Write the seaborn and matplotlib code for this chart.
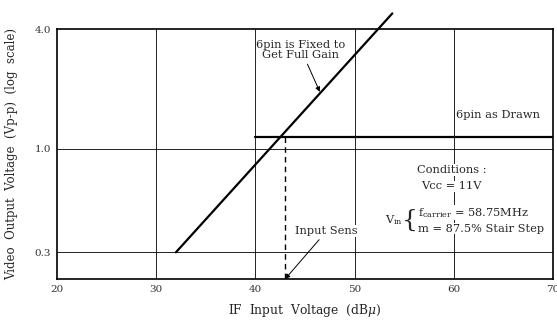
import matplotlib
matplotlib.use("Agg")
import matplotlib.pyplot as plt
import seaborn as sns
import pandas as pd

# data
full_gain_x = [32.0, 53.8]      # 6pin fixed to get full gain (dBu)
full_gain_y = [0.3, 4.8]        # Vp-p
drawn_x = [40.0, 70.0]          # 6pin as drawn
drawn_y = [1.15, 1.15]
sens_x = [43.0, 43.0]           # input sensitivity marker
sens_y = [1.15, 0.22]

x_ticks = [20, 30, 40, 50, 60, 70]
y_ticks = [0.3, 1.0, 4.0]
y_ticklabels = ["0.3", "1.0", "4.0"]

sns.set_theme(style="white")
plt.rcParams["font.family"] = ["DejaVu Serif"]
plt.rcParams["mathtext.fontset"] = "dejavuserif"

fig = plt.figure(figsize=(5.57, 3.2), dpi=100)
ax = fig.add_axes([0.102, 0.128, 0.891, 0.781])

# grid lines
for gx in [30, 40, 50, 60]:
    ax.axvline(gx, color="black", lw=0.6, zorder=1)
for gy in [0.3, 1.0]:
    ax.axhline(gy, color="black", lw=0.6, zorder=1)

df_full = pd.DataFrame({"x": full_gain_x, "y": full_gain_y})
df_drawn = pd.DataFrame({"x": drawn_x, "y": drawn_y})

sns.lineplot(data=df_full, x="x", y="y", ax=ax, color="black", lw=1.6, zorder=5)
ax.lines[-1].set_clip_on(False)
sns.lineplot(data=df_drawn, x="x", y="y", ax=ax, color="black", lw=1.6, zorder=5)
ax.plot(sens_x, sens_y, color="black", lw=1.0, linestyle=(0, (4, 3)), zorder=5)

ax.set_yscale("log")
ax.set_xlim(20, 70)
ax.set_ylim(0.22, 4.0)
ax.set_xticks(x_ticks)
ax.set_xticklabels([str(t) for t in x_ticks])
ax.set_yticks(y_ticks)
ax.set_yticklabels(y_ticklabels)
ax.minorticks_off()
ax.tick_params(axis="both", labelsize=7.5, length=0, pad=4, colors="#333333")

for s in ax.spines.values():
    s.set_color("black")
    s.set_linewidth(1.2)

ax.set_xlabel("IF  Input  Voltage  (dB$\\mu$)", fontsize=8.8, labelpad=6)
ax.set_ylabel("Video  Output  Voltage  (Vp-p)  (log  scale)", fontsize=8.5, labelpad=12)

box = dict(facecolor="white", edgecolor="none", pad=0.5)
fs = 8.2

ax.annotate("6pin is Fixed to\nGet Full Gain", xy=(46.5, 1.93), xytext=(44.6, 3.15),
            ha="center", va="center", fontsize=fs, linespacing=1.0, bbox=box,
            arrowprops=dict(arrowstyle="-|>", color="black", lw=0.7,
                            mutation_scale=7, shrinkA=3, shrinkB=0), zorder=4)

ax.text(64.4, 1.48, "6pin as Drawn", ha="center", va="center", fontsize=fs, bbox=box, zorder=4)

ax.annotate("Input Sens", xy=(43.0, 0.22), xytext=(47.2, 0.385),
            ha="center", va="center", fontsize=fs, bbox=box,
            arrowprops=dict(arrowstyle="-|>", color="black", lw=0.7,
                            mutation_scale=7, shrinkA=3, shrinkB=0), zorder=4)

ax.text(59.8, 0.78, "Conditions :", ha="center", va="center", fontsize=fs, bbox=box, zorder=4)
ax.text(59.8, 0.645, "Vcc = 11V", ha="center", va="center", fontsize=fs, bbox=box, zorder=4)
ax.text(54.0, 0.435, "$\\mathrm{V_{in}}$", ha="center", va="center", fontsize=fs, zorder=4)
ax.text(55.6, 0.435, "{", ha="center", va="center", fontsize=18, zorder=4,
        fontweight="light")
ax.text(56.4, 0.475, "f$_{\\mathrm{carrier}}$ = 58.75MHz", ha="left", va="center",
        fontsize=fs, bbox=box, zorder=4)
ax.text(56.4, 0.395, "m = 87.5% Stair Step", ha="left", va="center",
        fontsize=fs, bbox=box, zorder=4)

fig.savefig("out.png", dpi=100)
